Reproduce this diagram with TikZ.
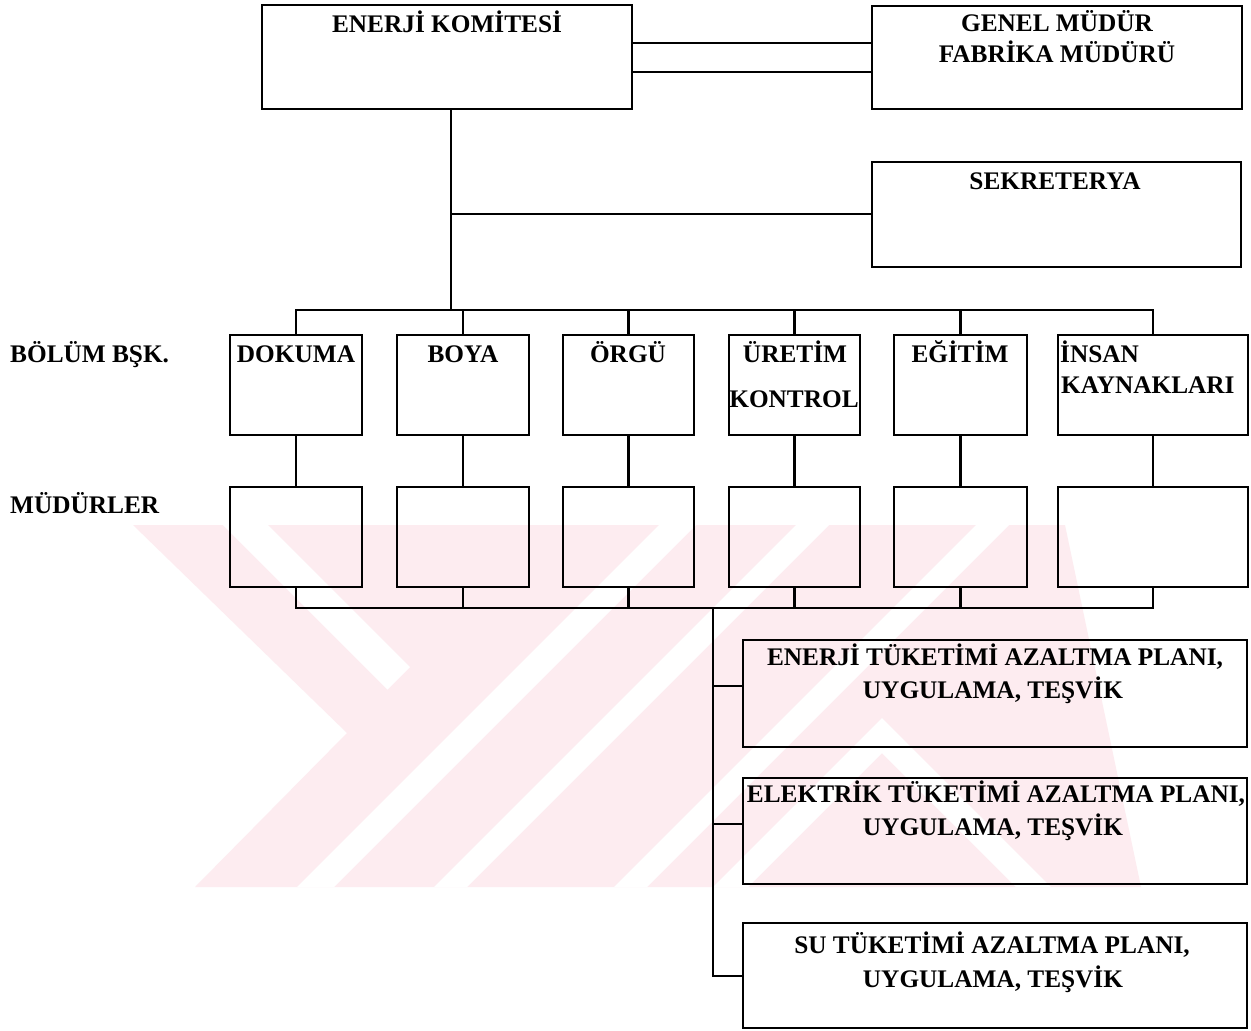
\documentclass[tikz,border=0pt]{standalone}
\usepackage{fontspec}
\setmainfont{Liberation Serif}
\definecolor{wm}{RGB}{253,236,240}
\begin{document}
\begin{tikzpicture}[x=1pt,y=-1pt,
  box/.style={draw, line width=2.6pt, inner sep=0pt, outer sep=0pt, anchor=north west},
  conn/.style={line width=2.6pt},
  lbl/.style={anchor=base, inner sep=0pt, font=\fontsize{25.3}{30}\selectfont\bfseries},
  lblw/.style={lbl, anchor=base west}]
\fill[white] (0,0) rectangle (1251,1031);
\useasboundingbox (0,0) rectangle (1251,1031);
% watermark
\begin{scope}
\path[clip] (133,525) -- (1065,525) -- (1141,887) -- (195,887) -- (347,733) -- cycle;
\fill[wm] (0,500) rectangle (1251,900);
\fill[white] (223,525) -- (268,525) -- (410,667) -- (387.5,689.5) -- cycle;
\fill[white] (659,525) -- (696,525) -- (334,887) -- (297,887) -- cycle;
\fill[white] (796,525) -- (829,525) -- (467,887) -- (434,887) -- cycle;
\fill[white] (976,525) -- (1009,525) -- (647,887) -- (614,887) -- cycle;
\fill[white] (713,887) -- (882,718) -- (1051,887) -- (1016,887) -- (882,753) -- (748,887) -- cycle;
\end{scope}
% boxes
\node[box, minimum width=370pt, minimum height=104pt] (kom) at (262,5) {};
\node[box, minimum width=370pt, minimum height=103pt] (gm) at (872,6) {};
\node[box, minimum width=369pt, minimum height=105pt] (sek) at (872,162) {};
\foreach \n/\x/\w in {1/230/132,2/397/132,3/563/131,4/729/131,5/894/133,6/1058/190}{
  \node[box, minimum width=\w pt, minimum height=100pt] (d\n) at (\x,335) {};
  \node[box, minimum width=\w pt, minimum height=100pt] (m\n) at (\x,487) {};
}
\node[box, minimum width=504pt, minimum height=107pt] (p1) at (743,640) {};
\node[box, minimum width=504pt, minimum height=106pt] (p2) at (743,778) {};
\node[box, minimum width=504pt, minimum height=105pt] (p3) at (743,923) {};
% junction coordinates
\coordinate (h1) at (632,43);
\coordinate (h2) at (632,72);
\coordinate (j1) at (451,214);
\coordinate (j2) at (451,310);
\coordinate (j3) at (713,608);
\coordinate (b1) at (713,686);
\coordinate (b2) at (713,824);
\coordinate (b3) at (713,976);
% connectors
\draw[conn] (kom.east |- h1) -- (gm.west |- h1);
\draw[conn] (kom.east |- h2) -- (gm.west |- h2);
\draw[conn] (kom.south -| j1) -- (j2);
\draw[conn] (j1) -- (sek.west |- j1);
\draw[conn] (d1.north) -- (d1.north |- j2) -- (d6.north |- j2) -- (d6.north);
\foreach \n in {2,3,4,5}{ \draw[conn] (d\n.north) -- (d\n.north |- j2); }
\foreach \n in {1,...,6}{ \draw[conn] (d\n.south) -- (m\n.north); }
\draw[conn] (m1.south) -- (m1.south |- j3) -- (m6.south |- j3) -- (m6.south);
\foreach \n in {2,3,4,5}{ \draw[conn] (m\n.south) -- (m\n.south |- j3); }
\draw[conn] (j3) -- (b3) -- (p3.west |- b3);
\draw[conn] (b1) -- (p1.west |- b1);
\draw[conn] (b2) -- (p2.west |- b2);
% texts
\node[lbl] (tkom) at (447,32) {ENERJİ KOMİTESİ};
\node[lbl] (tgm1) at (1057,31) {GENEL MÜDÜR};
\node[lbl] (tgm2) at (1057,62) {FABRİKA MÜDÜRÜ};
\node[lbl] (tsek) at (1055,189) {SEKRETERYA};
\node[lblw] (tbol) at (10,362) {BÖLÜM BŞK.};
\node[lblw] (tmud) at (10,513) {MÜDÜRLER};
\node[lbl] (td1) at (296,362) {DOKUMA};
\node[lbl] (td2) at (463,362) {BOYA};
\node[lbl] (td3) at (628,362) {ÖRGÜ};
\node[lbl] (td4a) at (795,362) {ÜRETİM};
\node[lbl] (td4b) at (794,407) {KONTROL};
\node[lbl] (td5) at (960,362) {EĞİTİM};
\node[lblw] (td6a) at (1060,362) {İNSAN};
\node[lblw] (td6b) at (1061,393) {KAYNAKLARI};
\node[lbl] (tp1a) at (995,665) {ENERJİ TÜKETİMİ AZALTMA PLANI,};
\node[lbl] (tp1b) at (993,698) {UYGULAMA, TEŞVİK};
\node[lbl] (tp2a) at (996,802) {ELEKTRİK TÜKETİMİ AZALTMA PLANI,};
\node[lbl] (tp2b) at (993,835) {UYGULAMA, TEŞVİK};
\node[lbl] (tp3a) at (992,953) {SU TÜKETİMİ AZALTMA PLANI,};
\node[lbl] (tp3b) at (993,987) {UYGULAMA, TEŞVİK};
\end{tikzpicture}
\end{document}
